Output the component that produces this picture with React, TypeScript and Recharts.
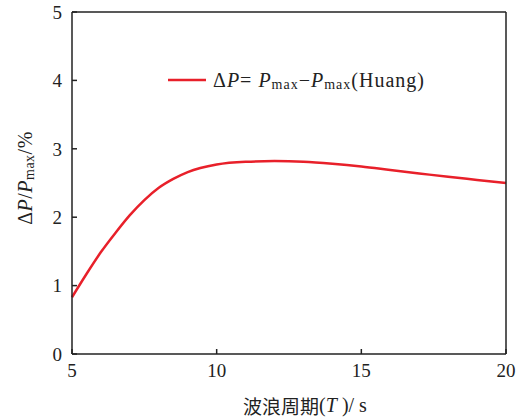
import React from 'react';
import { LineChart, Line, XAxis, YAxis } from 'recharts';

// wave period T (s) and relative power difference (%)
const periods = [5, 5.5, 6, 6.5, 7, 7.5, 8, 8.5, 9, 10, 11, 12, 13, 14, 15, 16, 17, 18, 19, 20];
const deltaP = [0.83, 1.17, 1.49, 1.77, 2.03, 2.25, 2.43, 2.56, 2.66, 2.77, 2.81, 2.82, 2.81, 2.78, 2.74, 2.69, 2.64, 2.59, 2.545, 2.5];
const xTicks = [5, 10, 15, 20];
const yTicks = [0, 1, 2, 3, 4, 5];

const data = periods.map((t, i) => ({ t, dp: deltaP[i] }));

const FONT = '"Liberation Serif", "DejaVu Serif", serif';
const AXIS = '#222';
const RED = '#e8202a';

const YLabel = () => (
    <text
        x={25}
        y={178}
        transform="rotate(-90, 25, 178)"
        textAnchor="middle"
        dominantBaseline="central"
        fontFamily={FONT}
        fontSize={20}
        letterSpacing={0.5}
        fill="#222"
    >
        <tspan>Δ</tspan>
        <tspan fontStyle="italic">P</tspan>
        <tspan>/</tspan>
        <tspan fontStyle="italic">P</tspan>
        <tspan fontSize={14} dy={4}>max</tspan>
        <tspan dy={-4}>/%</tspan>
    </text>
);

const XLabel = () => (
    <text x={305} y={405} textAnchor="middle" dominantBaseline="central" fontFamily={FONT} fontSize={20} fill="#222">
        <tspan fontFamily={'"Noto Sans CJK SC", sans-serif'} fontSize={19}>波浪周期</tspan>
        <tspan>(</tspan>
        <tspan fontStyle="italic">T</tspan>
        <tspan> )/ s</tspan>
    </text>
);

// legend drawn in svg so it takes no room from the plot
const LegendMark = () => (
    <g>
        <line x1={168} x2={206} y1={80} y2={80} stroke={RED} strokeWidth={2.5} />
        <text x={213} y={80} dominantBaseline="central" fontFamily={FONT} fontSize={20} letterSpacing={1} fill="#222">
            <tspan>Δ</tspan>
            <tspan fontStyle="italic">P</tspan>
            <tspan>= </tspan>
            <tspan fontStyle="italic">P</tspan>
            <tspan fontSize={14} dy={4}>max</tspan>
            <tspan dy={-4}>−</tspan>
            <tspan fontStyle="italic">P</tspan>
            <tspan fontSize={14} dy={4}>max</tspan>
            <tspan dy={-4}>(Huang)</tspan>
        </text>
    </g>
);

export default function App() {
    return (
        <div style={{ position: 'absolute', left: 0, top: 0, width: 520, height: 419, background: '#fff' }}>
            <LineChart width={520} height={419} data={data} margin={{ top: 11, right: 13, bottom: 64, left: 71 }}>
                <XAxis
                    dataKey="t"
                    type="number"
                    domain={[5, 20]}
                    ticks={xTicks}
                    height={1}
                    tickSize={-5}
                    tickMargin={15}
                    stroke={AXIS}
                    strokeWidth={1.5}
                    tick={{ fontSize: 19, fontFamily: FONT, fill: '#222' }}
                />
                <XAxis xAxisId="top" orientation="top" dataKey="t" type="number" domain={[5, 20]} height={1} tick={false} tickLine={false} stroke={AXIS} strokeWidth={1.5} />
                <YAxis
                    type="number"
                    domain={[0, 5]}
                    ticks={yTicks}
                    width={1}
                    tickSize={-5}
                    tickMargin={15}
                    stroke={AXIS}
                    strokeWidth={1.5}
                    tick={{ fontSize: 19, fontFamily: FONT, fill: '#222' }}
                />
                <YAxis yAxisId="right" orientation="right" type="number" domain={[0, 5]} width={1} tick={false} tickLine={false} stroke={AXIS} strokeWidth={1.5} />
                <Line type="monotone" dataKey="dp" stroke={RED} strokeWidth={2.5} dot={false} isAnimationActive={false} />
                <LegendMark />
                <YLabel />
                <XLabel />
            </LineChart>
        </div>
    );
}
